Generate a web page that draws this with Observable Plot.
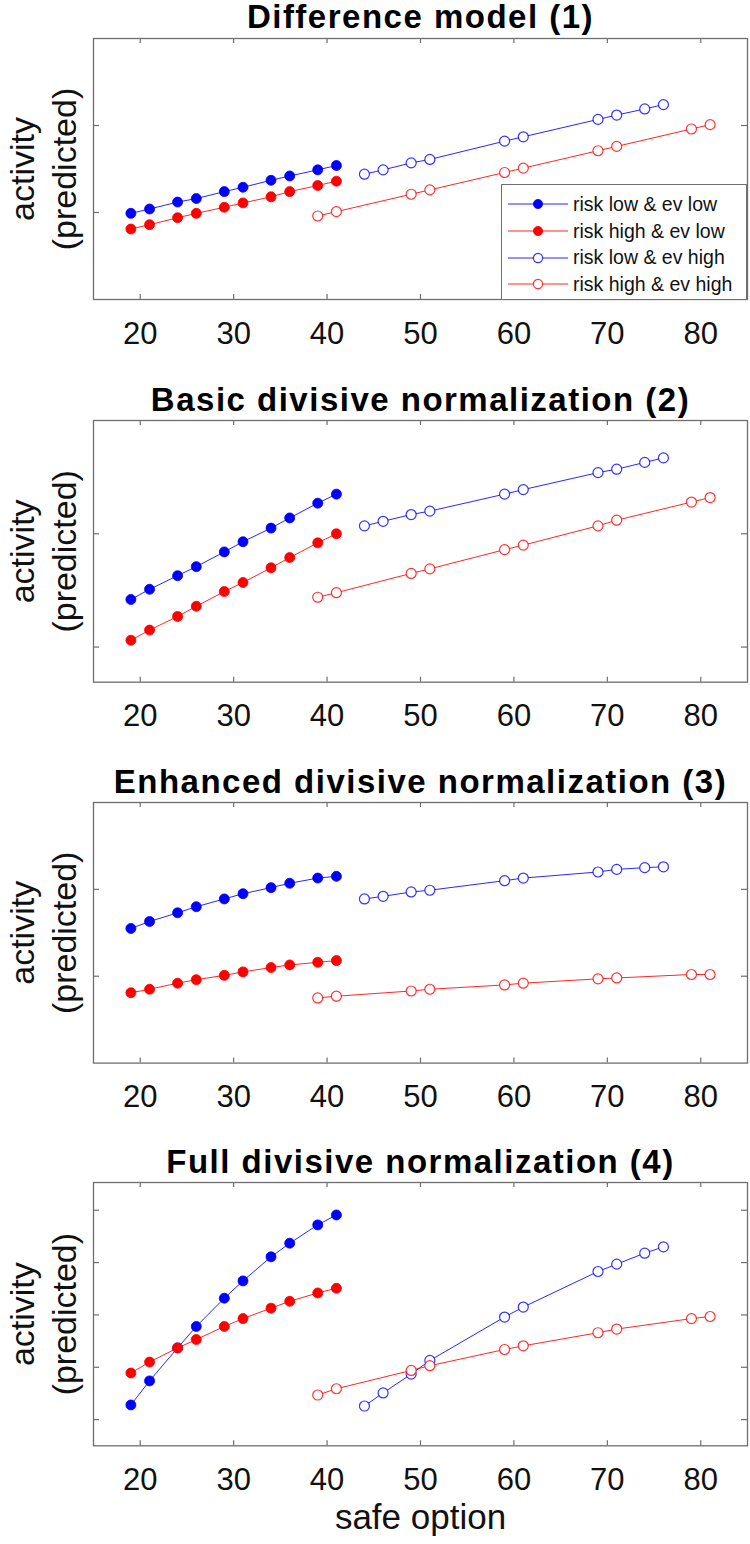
<!DOCTYPE html>
<html>
<head>
<meta charset="utf-8">
<script src="https://cdn.jsdelivr.net/npm/d3@7"></script>
<script src="https://cdn.jsdelivr.net/npm/@observablehq/plot@0.6"></script>
<style>
  html, body { margin: 0; padding: 0; background: #fff; }
  #wrap { position: relative; width: 750px; height: 1544px; background: #fff; font-family: "Liberation Sans", Arial, Helvetica, sans-serif; }
  #wrap svg.panel { position: absolute; left: 0; }
  #legend { position: absolute; left: 501px; top: 184px; width: 244px; height: 114px; border: 1.3px solid #707070; background: #fff; }
  .lrow { position: absolute; left: 0; height: 26px; display: flex; align-items: center; font-size: 19.5px; color: #111; white-space: nowrap; }
  .lrow svg { display: block; margin-left: 6px; margin-right: 5px; }
</style>
</head>
<body>
<div id="wrap"></div>
<script>
// ---- data ----
const xTicks = [20, 30, 40, 50, 60, 70, 80];
const safeLowEv = [19, 21, 24, 26, 29, 31, 34, 36, 39, 41];
const safeHighEvLowRisk = [44, 46, 49, 51, 59, 61, 69, 71, 74, 76];
const safeHighEvHighRisk = [39, 41, 49, 51, 59, 61, 69, 71, 79, 81];

const seriesNames = ["risk low & ev low", "risk high & ev low", "risk low & ev high", "risk high & ev high"];
const seriesColors = ["#0000ff", "#ff0000", "#0000ff", "#ff0000"];
const seriesFilled = [true, true, false, false];

const titles = [
  "Difference model (1)",
  "Basic divisive normalization (2)",
  "Enhanced divisive normalization (3)",
  "Full divisive normalization (4)"
];
const yDomains = [[0, 3], [0.69, 3], [0, 3], [0.5, 5.53]];
const yTickSets = [[1, 2], [1, 2], [1, 2], [1, 2, 3, 4, 5]];

// model 1
const m1LowRiskLowEv   = [0.99, 1.04, 1.12, 1.16, 1.24, 1.29, 1.37, 1.42, 1.49, 1.54];
const m1HighRiskLowEv  = [0.81, 0.86, 0.94, 0.99, 1.06, 1.11, 1.18, 1.24, 1.31, 1.36];
const m1LowRiskHighEv  = [1.44, 1.49, 1.57, 1.61, 1.82, 1.87, 2.07, 2.12, 2.19, 2.24];
const m1HighRiskHighEv = [0.96, 1.01, 1.21, 1.26, 1.46, 1.51, 1.71, 1.76, 1.96, 2.01];
// model 2
const m2LowRiskLowEv   = [1.42, 1.51, 1.63, 1.71, 1.84, 1.93, 2.05, 2.14, 2.27, 2.35];
const m2HighRiskLowEv  = [1.06, 1.15, 1.27, 1.36, 1.49, 1.57, 1.70, 1.79, 1.92, 2.00];
const m2LowRiskHighEv  = [2.07, 2.11, 2.17, 2.20, 2.35, 2.39, 2.54, 2.57, 2.63, 2.67];
const m2HighRiskHighEv = [1.44, 1.48, 1.65, 1.69, 1.86, 1.90, 2.07, 2.12, 2.28, 2.32];
// model 3
const m3LowRiskLowEv   = [1.55, 1.63, 1.73, 1.80, 1.89, 1.95, 2.02, 2.07, 2.13, 2.15];
const m3HighRiskLowEv  = [0.81, 0.85, 0.92, 0.96, 1.01, 1.05, 1.10, 1.13, 1.16, 1.18];
const m3LowRiskHighEv  = [1.89, 1.92, 1.97, 1.99, 2.10, 2.13, 2.20, 2.23, 2.25, 2.26];
const m3HighRiskHighEv = [0.75, 0.77, 0.83, 0.85, 0.90, 0.92, 0.97, 0.98, 1.02, 1.02];
// model 4
const m4LowRiskLowEv   = [1.28, 1.74, 2.37, 2.78, 3.32, 3.65, 4.11, 4.37, 4.72, 4.91];
const m4HighRiskLowEv  = [1.89, 2.10, 2.37, 2.53, 2.78, 2.93, 3.13, 3.26, 3.42, 3.51];
const m4LowRiskHighEv  = [1.26, 1.51, 1.87, 2.13, 2.96, 3.15, 3.83, 3.97, 4.18, 4.30];
const m4HighRiskHighEv = [1.47, 1.59, 1.94, 2.03, 2.34, 2.41, 2.66, 2.73, 2.93, 2.97];

const modelValues = [
  [m1LowRiskLowEv, m1HighRiskLowEv, m1LowRiskHighEv, m1HighRiskHighEv],
  [m2LowRiskLowEv, m2HighRiskLowEv, m2LowRiskHighEv, m2HighRiskHighEv],
  [m3LowRiskLowEv, m3HighRiskLowEv, m3LowRiskHighEv, m3HighRiskHighEv],
  [m4LowRiskLowEv, m4HighRiskLowEv, m4LowRiskHighEv, m4HighRiskHighEv]
];
const seriesX = [safeLowEv, safeLowEv, safeHighEvLowRisk, safeHighEvHighRisk];

// ---- layout ----
const W = 750, ML = 93, MR = 3, MT = 38;
const frameTops = [38.3, 420, 801.7, 1181.7];
const frameHeights = [261, 261.7, 260.6, 263.3];
const FONT = "'Liberation Sans', Arial, Helvetica, sans-serif";

const wrap = document.getElementById("wrap");

modelValues.forEach((vals, i) => {
  const fh = frameHeights[i];
  const fw = W - ML - MR;
  const last = i === 3;
  const MB = last ? 100 : 60;
  const H = MT + fh + MB;
  const rows = [];
  vals.forEach((ys, s) => ys.forEach((y, k) => rows.push({x: seriesX[s][k], y, s})));
  const marks = [
    Plot.frame({stroke: "#6e6e6e", strokeWidth: 1.3}),
    Plot.tickX(xTicks, {x: d => d, insetTop: fh - 5, stroke: "#6e6e6e", strokeWidth: 1.2}),
    Plot.tickX(xTicks, {x: d => d, insetBottom: fh - 5, stroke: "#6e6e6e", strokeWidth: 1.2}),
    Plot.tickY(yTickSets[i], {y: d => d, insetRight: fw - 6, stroke: "#6e6e6e", strokeWidth: 1.2}),
    Plot.tickY(yTickSets[i], {y: d => d, insetLeft: fw - 6, stroke: "#6e6e6e", strokeWidth: 1.2}),
    Plot.axisX({ticks: xTicks, anchor: "bottom", tickSize: 0, tickPadding: 22, fontSize: 31, label: null, tickFormat: d => String(d), fill: "#111"})
  ];
  [0, 1, 2, 3].forEach(s => {
    const data = rows.filter(r => r.s === s);
    marks.push(Plot.line(data, {x: "x", y: "y", stroke: seriesColors[s], strokeWidth: 1, strokeOpacity: 0.85}));
  });
  [0, 1, 2, 3].forEach(s => {
    const data = rows.filter(r => r.s === s);
    marks.push(Plot.dot(data, seriesFilled[s]
      ? {x: "x", y: "y", r: 5, fill: seriesColors[s], stroke: seriesColors[s], strokeWidth: 0.8}
      : {x: "x", y: "y", r: 5, fill: "white", stroke: seriesColors[s], strokeWidth: 1.2, strokeOpacity: 0.8}));
  });
  marks.push(Plot.text([titles[i]], {frameAnchor: "top", dy: i === 0 ? -11 : -9, lineAnchor: "bottom", textAnchor: "middle", fontWeight: "bold", fontSize: 33, fill: "#000", text: d => d}));
  marks.push(Plot.text(["activity\n(predicted)"], {frameAnchor: "left", dx: -52, rotate: -90, textAnchor: "middle", lineAnchor: "middle", fontSize: 34, lineHeight: 1.24, fill: "#111", text: d => d}));
  if (last) {
    marks.push(Plot.text(["safe option"], {frameAnchor: "bottom", dy: 83, lineAnchor: "bottom", fontSize: 35, fill: "#111", text: d => d}));
  }
  const svg = Plot.plot({
    width: W, height: H,
    marginLeft: ML, marginRight: MR, marginTop: MT, marginBottom: MB,
    x: {domain: [15, 85]},
    y: {domain: yDomains[i], axis: null},
    style: {fontFamily: FONT, background: "transparent", overflow: "visible"},
    marks
  });
  svg.querySelectorAll("text").forEach(t => {
    if (t.textContent === titles[i]) t.style.letterSpacing = "1.5px";
  });
  svg.classList.add("panel");
  svg.style.top = (frameTops[i] - MT) + "px";
  wrap.appendChild(svg);
});

// ---- legend (panel 1) ----
const legend = document.createElement("div");
legend.id = "legend";
const rowCenters = [19.3, 46, 72.7, 99.3];
seriesNames.forEach((name, s) => {
  const row = document.createElement("div");
  row.className = "lrow";
  row.style.top = (rowCenters[s] - 13) + "px";
  const col = seriesColors[s];
  const dot = seriesFilled[s]
    ? `<circle cx="30" cy="8" r="4.6" fill="${col}" stroke="${col}" stroke-width="0.8"/>`
    : `<circle cx="30" cy="8" r="4.6" fill="white" stroke="${col}" stroke-width="1.2" stroke-opacity="0.8"/>`;
  row.innerHTML = `<svg width="60" height="16"><line x1="0" x2="60" y1="8" y2="8" stroke="${col}" stroke-width="1" stroke-opacity="0.85"/>${dot}</svg><span>${name}</span>`;
  legend.appendChild(row);
});
wrap.appendChild(legend);
</script>
</body>
</html>
